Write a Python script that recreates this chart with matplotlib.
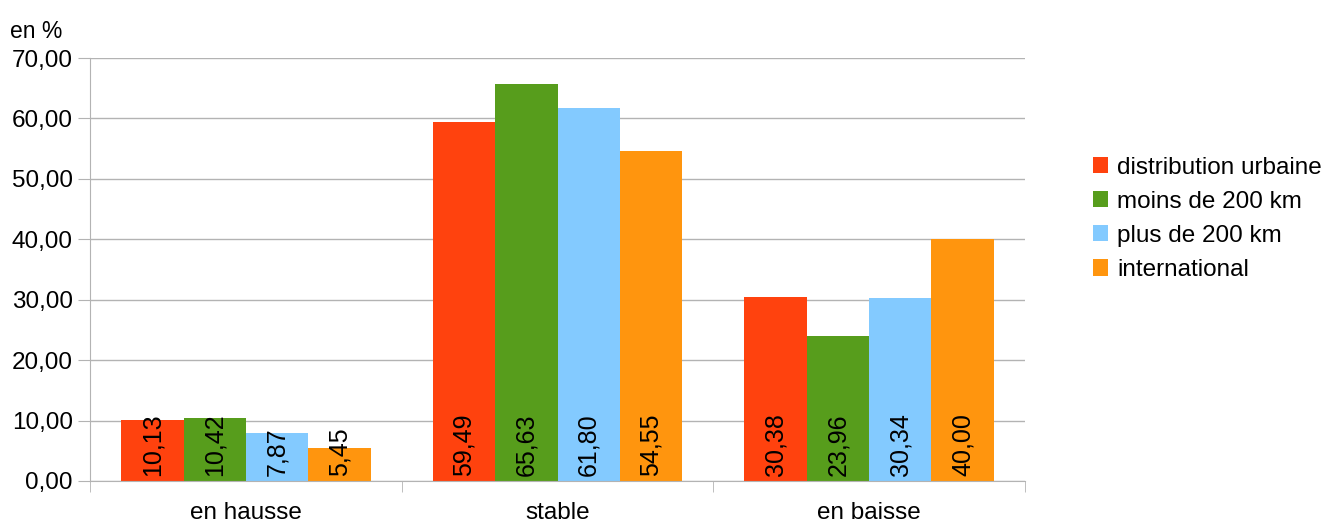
import matplotlib.pyplot as plt
import numpy as np

plt.rcParams['font.family'] = ['Liberation Sans', 'DejaVu Sans']

categories = ['en hausse', 'stable', 'en baisse']
series = ['distribution urbaine', 'moins de 200 km', 'plus de 200 km', 'international']
values = [
    [10.13, 59.49, 30.38],
    [10.42, 65.63, 23.96],
    [7.87, 61.80, 30.34],
    [5.45, 54.55, 40.00],
]
colors = ['#ff420e', '#579d1c', '#83caff', '#ff950e']
yticks = [0, 10, 20, 30, 40, 50, 60, 70]

fig = plt.figure(figsize=(13.27, 5.24), dpi=100)
ax = fig.add_axes([90 / 1327, 1 - 481 / 524, 935 / 1327, 423 / 524])

x = np.arange(len(categories))
w = 0.2
for i, (name, vals) in enumerate(zip(series, values)):
    pos = x - 0.3 + i * w
    ax.bar(pos, vals, width=w, color=colors[i], label=name, zorder=2)
    for p, v in zip(pos, vals):
        ax.text(p, 0.9, f'{v:.2f}'.replace('.', ','), rotation=90,
                ha='center', va='bottom', fontsize=18, color='black', zorder=3)

ax.set_xlim(-0.5, 2.5)
ax.set_ylim(0, 70)
ax.set_yticks(yticks)
ax.set_yticklabels([f'{t:.2f}'.replace('.', ',') for t in yticks], fontsize=17.5)
ax.yaxis.grid(True, color='#b3b3b3', linewidth=1, zorder=0)
ax.set_axisbelow(True)

ax.set_xticks(x)
ax.set_xticklabels(categories, fontsize=17.5)
ax.tick_params(axis='x', length=0, pad=15)
ax.set_xticks([-0.5, 0.5, 1.5, 2.5], minor=True)
ax.tick_params(axis='x', which='minor', length=8, color='#b3b3b3')
ax.tick_params(axis='y', length=9, color='#b3b3b3', pad=3.5)

for s in ['top', 'right']:
    ax.spines[s].set_visible(False)
for s in ['left', 'bottom']:
    ax.spines[s].set_color('#b3b3b3')

# unité de l'axe vertical
ax.text(-0.058, 1.035, 'en %', transform=ax.transAxes, fontsize=16.5,
        ha='center', va='bottom')

ax.legend(loc='center left', bbox_to_anchor=(1.062, 0.62), frameon=False,
          fontsize=17.5, handlelength=0.65, handleheight=0.65, handletextpad=0.35,
          labelspacing=0.5, borderaxespad=0)

fig.savefig('out.png', dpi=100)
